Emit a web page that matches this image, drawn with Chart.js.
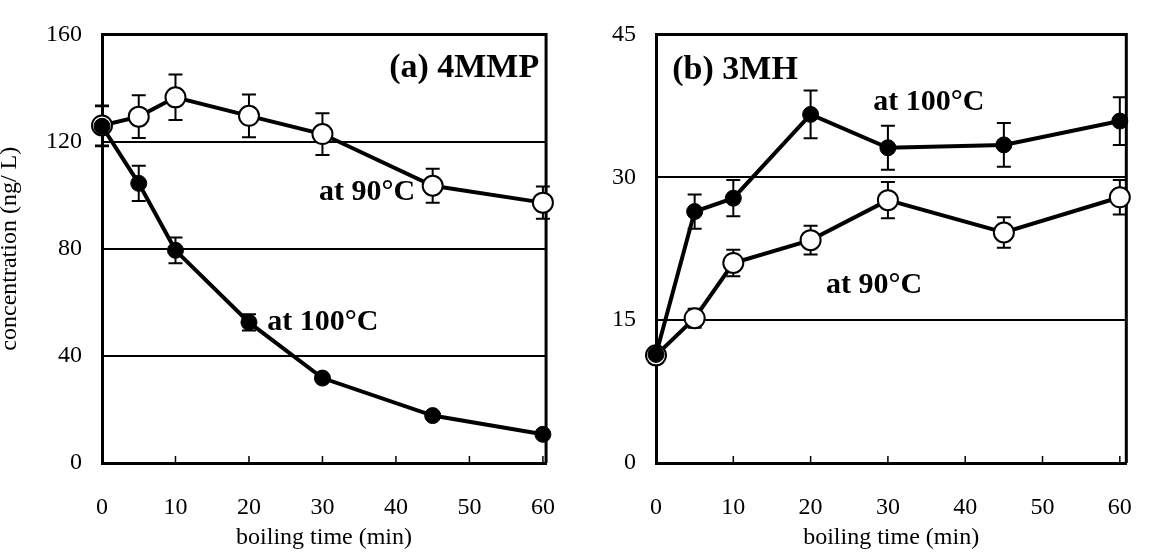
<!DOCTYPE html>
<html>
<head>
<meta charset="utf-8">
<script src="https://cdn.jsdelivr.net/npm/chart.js@4.4.1/dist/chart.umd.min.js"></script>
<style>
  body { margin: 0; background: #fff; }
  .wrap { display: flex; width: 1154px; height: 560px; }
  canvas { display: block; }
</style>
</head>
<body>
<div class="wrap">
  <canvas id="chart4mmp" width="577" height="560"></canvas>
  <canvas id="chart3mh" width="577" height="560"></canvas>
</div>
<script>
const times = [0, 5, 10, 20, 30, 45, 60];

// (a) 4MMP, ng/L
const mmp100 = [125.7, 104.4, 79.4, 52.5, 31.7, 17.7, 10.7];
const mmp100Err = [7.5, 6.6, 4.8, 3.0, 1.0, 0.8, 0.6];
const mmp90 = [126.0, 129.3, 136.5, 129.6, 122.8, 103.5, 97.2];
const mmp90Err = [7.5, 8.0, 8.5, 8.0, 7.8, 6.3, 6.0];

// (b) 3MH, ng/L
const mh100 = [11.4, 26.4, 27.8, 36.6, 33.1, 33.4, 35.9];
const mh100Err = [0.3, 1.8, 1.9, 2.5, 2.3, 2.3, 2.5];
const mh90 = [11.3, 15.2, 21.0, 23.4, 27.6, 24.2, 27.9];
const mh90Err = [0.3, 1.0, 1.4, 1.5, 1.9, 1.6, 1.8];

const xTickValues = [0, 10, 20, 30, 40, 50, 60];
const mmpStep = 40;
const mhStep = 15;

const serif = "'Liberation Serif', 'Times New Roman', serif";
const tickFont = { family: serif, size: 24 };

function pairs(ys) {
    return times.map((t, i) => ({ x: t, y: ys[i] }));
}

// error bars, box edges and x tick marks
const decorations = {
    id: 'decorations',
    beforeDatasetsDraw(chart) {
        const ctx = chart.ctx;
        const a = chart.chartArea;
        const xs = chart.scales.x, ys = chart.scales.y;
        ctx.save();
        ctx.strokeStyle = '#000';
        // top and right edges of the box
        ctx.lineWidth = 3;
        ctx.beginPath();
        ctx.moveTo(a.left, a.top);
        ctx.lineTo(a.right, a.top);
        ctx.lineTo(a.right, a.bottom);
        ctx.stroke();
        // small inward tick marks on the x axis
        ctx.lineWidth = 1.5;
        xTickValues.forEach(v => {
            if (v === 0) return;
            const px = xs.getPixelForValue(v);
            ctx.beginPath();
            ctx.moveTo(px, a.bottom);
            ctx.lineTo(px, a.bottom - 7);
            ctx.stroke();
        });
        // error bars
        ctx.lineWidth = 2;
        chart.data.datasets.forEach(ds => {
            ds.data.forEach((p, i) => {
                const e = ds.errors[i];
                const px = xs.getPixelForValue(p.x);
                const top = ys.getPixelForValue(p.y + e);
                const bot = ys.getPixelForValue(p.y - e);
                ctx.beginPath();
                ctx.moveTo(px, top); ctx.lineTo(px, bot);
                ctx.moveTo(px - 7, top); ctx.lineTo(px + 7, top);
                ctx.moveTo(px - 7, bot); ctx.lineTo(px + 7, bot);
                ctx.stroke();
            });
        });
        ctx.restore();
    },
    afterDatasetsDraw(chart, args, opts) {
        const ctx = chart.ctx;
        const xs = chart.scales.x, ys = chart.scales.y;
        ctx.save();
        ctx.fillStyle = '#000';
        ctx.textBaseline = 'alphabetic';
        (opts.labels || []).forEach(l => {
            ctx.font = 'bold ' + l.size + 'px ' + serif;
            ctx.textAlign = l.align;
            ctx.fillText(l.text, xs.getPixelForValue(l.x), ys.getPixelForValue(l.y));
        });
        ctx.restore();
    }
};

function makeChart(id, cfg) {
    const ctx = document.getElementById(id).getContext('2d');
    return new Chart(ctx, {
        type: 'line',
        data: {
            datasets: [{
                label: 'at 100°C',
                data: pairs(cfg.hot),
                errors: cfg.hotErr,
                borderColor: '#000',
                borderWidth: 4,
                pointRadius: 8,
                pointBackgroundColor: '#000',
                pointBorderColor: '#000',
                pointBorderWidth: 1,
                clip: false
            }, {
                label: 'at 90°C',
                data: pairs(cfg.warm),
                errors: cfg.warmErr,
                borderColor: '#000',
                borderWidth: 4,
                pointRadius: 10,
                pointBackgroundColor: '#fff',
                pointBorderColor: '#000',
                pointBorderWidth: 2,
                clip: false
            }]
        },
        options: {
            responsive: false,
            animation: false,
            devicePixelRatio: 1,
            layout: { padding: { top: 19, right: 13, bottom: 0, left: 0 } },
            plugins: {
                legend: { display: false },
                tooltip: { enabled: false },
                decorations: { labels: cfg.labels }
            },
            scales: {
                x: {
                    type: 'linear',
                    min: 0,
                    max: cfg.xMax,
                    grid: { display: false },
                    border: { display: true, color: '#000', width: 3 },
                    ticks: { stepSize: 10, includeBounds: false, padding: 22, color: '#000', font: tickFont, maxRotation: 0 },
                    title: { display: true, text: 'boiling time (min)', color: '#000', font: tickFont, padding: { top: 0, bottom: 8 } },
                    afterFit(scale) { scale.height = 97; }
                },
                y: {
                    min: 0,
                    max: cfg.yMax,
                    grid: { color: '#000', lineWidth: 2, drawTicks: false },
                    border: { display: true, color: '#000', width: 3 },
                    ticks: { stepSize: cfg.yStep, padding: 20, color: '#000', font: tickFont },
                    title: { display: cfg.yTitle !== '', text: cfg.yTitle, color: '#000', font: tickFont, padding: { top: -5, bottom: 0 } },
                    afterFit(scale) { scale.width = cfg.yWidth; }
                }
            }
        },
        plugins: [decorations]
    });
}

makeChart('chart4mmp', {
    hot: mmp100, hotErr: mmp100Err, warm: mmp90, warmErr: mmp90Err,
    xMax: 60.43, yMax: 160, yStep: mmpStep, yWidth: 102,
    yTitle: 'concentration (ng/ L)',
    labels: [
        { text: '(a) 4MMP', x: 59.5, y: 144.1, align: 'right', size: 34 },
        { text: 'at 90°C', x: 42.6, y: 98.0, align: 'right', size: 30 },
        { text: 'at 100°C', x: 22.5, y: 49.7, align: 'left', size: 30 }
    ]
});

makeChart('chart3mh', {
    hot: mh100, hotErr: mh100Err, warm: mh90, warmErr: mh90Err,
    xMax: 60.84, yMax: 45, yStep: mhStep, yWidth: 79,
    yTitle: '',
    labels: [
        { text: '(b) 3MH', x: 2.1, y: 40.3, align: 'left', size: 34 },
        { text: 'at 100°C', x: 28.1, y: 37.1, align: 'left', size: 30 },
        { text: 'at 90°C', x: 22.0, y: 17.8, align: 'left', size: 30 }
    ]
});
</script>
</body>
</html>
